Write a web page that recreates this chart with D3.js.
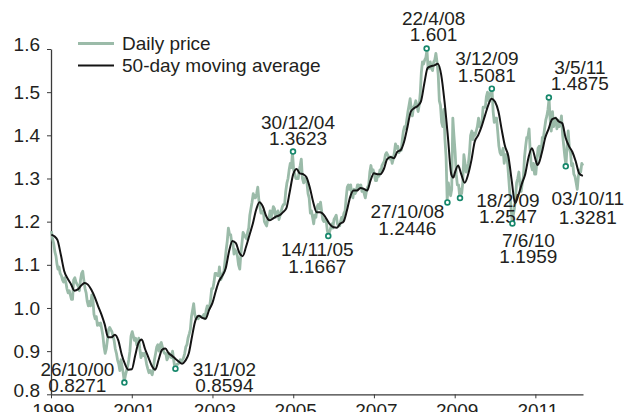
<!DOCTYPE html>
<html>
<head>
<meta charset="utf-8">
<script src="https://cdn.jsdelivr.net/npm/d3@7"></script>
<style>
  html, body { margin: 0; padding: 0; background: #ffffff; }
  svg { display: block; font-family: "Liberation Sans", Arial, Helvetica, sans-serif; }
</style>
</head>
<body>
<svg id="chart" width="627" height="412"></svg>
<script>
// ---------------- DATA ----------------
// Daily price, sampled on the 5th, 15th and 25th of each month (Jan..Dec)
const price1999 = [1.178,1.160,1.150, 1.130,1.120,1.100, 1.090,1.095,1.080, 1.075,1.065,1.060, 1.070,1.060,1.045, 1.035,1.040,1.030, 1.020,1.020,1.065, 1.070,1.060,1.055, 1.050,1.040,1.065, 1.080,1.085,1.065, 1.045,1.035,1.015, 1.005,1.015,1.005];
const price2000 = [1.030,1.020,0.985, 0.975,0.980,0.960, 0.965,0.960,0.965, 0.950,0.935,0.910, 0.895,0.905,0.925, 0.950,0.955,0.950, 0.945,0.935,0.925, 0.905,0.895,0.880, 0.870,0.855,0.880, 0.865,0.850,0.830, 0.845,0.855,0.865, 0.880,0.900,0.935];
const price2001 = [0.945,0.935,0.925, 0.930,0.915,0.920, 0.930,0.905,0.885, 0.895,0.890,0.895, 0.885,0.870,0.860, 0.850,0.855,0.850, 0.845,0.860,0.880, 0.895,0.910,0.915, 0.900,0.915,0.920, 0.910,0.900,0.895, 0.895,0.880,0.885, 0.895,0.890,0.885];
const price2002 = [0.900,0.880,0.862, 0.865,0.870,0.870, 0.875,0.880,0.875, 0.880,0.885,0.895, 0.910,0.915,0.930, 0.940,0.950,0.980, 0.995,1.010,0.985, 0.975,0.980,0.975, 0.980,0.980,0.980, 0.980,0.985,0.975, 0.995,1.005,0.995, 1.000,1.020,1.045];
const price2003 = [1.045,1.060,1.080, 1.080,1.075,1.075, 1.095,1.065,1.070, 1.080,1.085,1.110, 1.135,1.155,1.185, 1.170,1.170,1.150, 1.150,1.125,1.135, 1.130,1.120,1.100, 1.090,1.125,1.150, 1.175,1.170,1.165, 1.160,1.175,1.185, 1.215,1.230,1.245];
const price2004 = [1.265,1.255,1.255, 1.265,1.280,1.250, 1.235,1.220,1.220, 1.225,1.200,1.195, 1.190,1.205,1.205, 1.225,1.210,1.220, 1.235,1.230,1.210, 1.220,1.225,1.205, 1.215,1.225,1.235, 1.240,1.240,1.270, 1.290,1.300,1.320, 1.335,1.325,1.360];
const price2005 = [1.320,1.310,1.300, 1.300,1.300,1.320, 1.330,1.345,1.300, 1.290,1.300,1.295, 1.290,1.265,1.255, 1.220,1.225,1.210, 1.195,1.215,1.210, 1.235,1.240,1.230, 1.245,1.225,1.205, 1.200,1.205,1.205, 1.180,1.170,1.175, 1.185,1.195,1.185];
const price2006 = [1.205,1.210,1.215, 1.195,1.190,1.190, 1.200,1.210,1.205, 1.220,1.225,1.255, 1.280,1.285,1.275, 1.285,1.260,1.255, 1.275,1.265,1.270, 1.285,1.285,1.280, 1.285,1.270,1.275, 1.265,1.255,1.270, 1.280,1.285,1.315, 1.330,1.315,1.320];
const price2007 = [1.310,1.295,1.295, 1.310,1.305,1.320, 1.315,1.330,1.335, 1.340,1.355,1.360, 1.355,1.350,1.345, 1.350,1.335,1.345, 1.360,1.380,1.370, 1.375,1.360,1.365, 1.365,1.390,1.410, 1.420,1.415,1.435, 1.455,1.470,1.485, 1.460,1.445,1.465];
const price2008 = [1.470,1.480,1.470, 1.455,1.470,1.500, 1.545,1.570,1.565, 1.575,1.580,1.598, 1.555,1.555,1.570, 1.555,1.550,1.570, 1.575,1.590,1.570, 1.540,1.480,1.470, 1.430,1.420,1.460, 1.390,1.350,1.250, 1.290,1.270,1.260, 1.275,1.440,1.400];
const price2009 = [1.360,1.310,1.285, 1.285,1.260,1.275, 1.265,1.290,1.355, 1.335,1.315,1.320, 1.335,1.360,1.400, 1.410,1.390,1.405, 1.400,1.410,1.420, 1.440,1.420,1.430, 1.430,1.465,1.465, 1.465,1.490,1.500, 1.480,1.495,1.500, 1.505,1.455,1.430];
const price2010 = [1.440,1.440,1.410, 1.375,1.360,1.355, 1.360,1.370,1.335, 1.355,1.355,1.335, 1.300,1.265,1.235, 1.198,1.215,1.230, 1.255,1.290,1.300, 1.315,1.285,1.270, 1.290,1.305,1.350, 1.375,1.395,1.395, 1.415,1.365,1.330, 1.320,1.335,1.310];
const price2011 = [1.310,1.340,1.370, 1.375,1.350,1.370, 1.395,1.395,1.415, 1.435,1.445,1.460, 1.485,1.435,1.410, 1.455,1.420,1.435, 1.440,1.415,1.435, 1.420,1.425,1.445, 1.400,1.375,1.350, 1.330,1.375,1.410, 1.370,1.360,1.330, 1.335,1.310,1.305];
const price2012 = [1.290,1.275,1.305, 1.320,1.315,1.335, 1.330];
const priceYears = [1999,2000,2001,2002,2003,2004,2005,2006,2007,2008,2009,2010,2011,2012];
const priceTables = [price1999,price2000,price2001,price2002,price2003,price2004,price2005,price2006,price2007,price2008,price2009,price2010,price2011,price2012];
const sampleDays = [5, 15, 25];

// 50-day moving average
const maDates = ["1999-01-04","1999-02-01","1999-03-01","1999-04-01","1999-05-01","1999-06-01","1999-07-01","1999-08-01","1999-09-01","1999-10-01","1999-11-01","1999-12-01",
"2000-01-01","2000-02-01","2000-03-01","2000-04-01","2000-05-01","2000-06-01","2000-07-01","2000-08-01","2000-09-01","2000-10-01","2000-11-01","2000-12-01",
"2001-01-01","2001-02-01","2001-03-01","2001-04-01","2001-05-01","2001-06-01","2001-07-01","2001-08-01","2001-09-01","2001-10-01","2001-11-01","2001-12-01",
"2002-01-01","2002-02-01","2002-03-01","2002-04-01","2002-05-01","2002-06-01","2002-07-01","2002-08-01","2002-09-01","2002-10-01","2002-11-01","2002-12-01",
"2003-01-01","2003-02-01","2003-03-01","2003-04-01","2003-05-01","2003-06-01","2003-07-01","2003-08-01","2003-09-01","2003-10-01","2003-11-01","2003-12-01",
"2004-01-01","2004-02-01","2004-03-01","2004-04-01","2004-05-01","2004-06-01","2004-07-01","2004-08-01","2004-09-01","2004-10-01","2004-11-01","2004-12-01",
"2005-01-01","2005-02-01","2005-03-01","2005-04-01","2005-05-01","2005-06-01","2005-07-01","2005-08-01","2005-09-01","2005-10-01","2005-11-01","2005-12-01",
"2006-01-01","2006-02-01","2006-03-01","2006-04-01","2006-05-01","2006-06-01","2006-07-01","2006-08-01","2006-09-01","2006-10-01","2006-11-01","2006-12-01",
"2007-01-01","2007-02-01","2007-03-01","2007-04-01","2007-05-01","2007-06-01","2007-07-01","2007-08-01","2007-09-01","2007-10-01","2007-11-01","2007-12-01",
"2008-01-01","2008-02-01","2008-03-01","2008-04-01","2008-05-01","2008-06-01","2008-07-01","2008-08-01","2008-09-01","2008-10-01","2008-11-01","2008-12-01","2008-12-20",
"2009-01-01","2009-02-01","2009-03-01","2009-04-01","2009-05-01","2009-06-01","2009-07-01","2009-08-01","2009-09-01","2009-10-01","2009-11-01","2009-12-01",
"2010-01-01","2010-02-01","2010-03-01","2010-04-01","2010-05-01","2010-06-01","2010-07-01","2010-08-01","2010-09-01","2010-10-01","2010-11-01","2010-12-01",
"2011-01-01","2011-01-20","2011-02-01","2011-03-01","2011-04-01","2011-05-01","2011-06-01","2011-07-01","2011-08-01","2011-09-01","2011-10-01","2011-11-01","2011-12-01",
"2012-01-01","2012-02-01","2012-03-06"];
const maValues = [1.170,1.166,1.157,1.122,1.085,1.068,1.055,1.040,1.043,1.052,1.058,1.054,
1.042,1.025,1.005,0.985,0.962,0.932,0.932,0.938,0.925,0.893,0.870,0.857,
0.858,0.890,0.918,0.927,0.905,0.885,0.866,0.857,0.880,0.903,0.906,0.895,
0.889,0.882,0.876,0.871,0.878,0.895,0.935,0.972,0.982,0.977,0.975,0.995,
1.012,1.040,1.062,1.075,1.092,1.132,1.155,1.150,1.128,1.120,1.142,1.168,
1.195,1.228,1.245,1.235,1.213,1.203,1.207,1.212,1.215,1.222,1.232,1.270,
1.310,1.322,1.312,1.310,1.303,1.278,1.245,1.222,1.222,1.217,1.205,1.193,
1.187,1.186,1.195,1.200,1.225,1.258,1.272,1.272,1.278,1.276,1.272,1.295,
1.312,1.310,1.310,1.322,1.345,1.350,1.347,1.362,1.366,1.385,1.420,1.455,
1.463,1.468,1.478,1.520,1.556,1.560,1.562,1.566,1.540,1.478,1.395,1.310,1.302,
1.312,1.330,1.310,1.290,1.308,1.342,1.385,1.400,1.420,1.445,1.470,1.485,
1.478,1.455,1.415,1.375,1.352,1.295,1.243,1.262,1.288,1.310,1.350,1.370,
1.345,1.331,1.335,1.360,1.395,1.415,1.437,1.440,1.432,1.428,1.395,1.375,1.362,
1.340,1.312,1.306];

// Annotated extremes
const annDates  = ["2000-10-26","2002-01-31","2004-12-30","2005-11-14","2008-04-22","2008-10-27","2009-02-18","2010-06-07","2009-12-03","2011-05-03","2011-10-03"];
const annValues = [0.8271,0.8594,1.3623,1.1667,1.601,1.2446,1.2547,1.1959,1.5081,1.4875,1.3281];
const annDateLabels  = ["26/10/00","31/1/02","30/12/04","14/11/05","22/4/08","27/10/08","18/2/09","7/6/10","3/12/09","3/5/11","03/10/11"];
const annValueLabels = ["0.8271","0.8594","1.3623","1.1667","1.601","1.2446","1.2547","1.1959","1.5081","1.4875","1.3281"];

const yTicks = [0.8,0.9,1.0,1.1,1.2,1.3,1.4,1.5,1.6];
const xTickYears = [1999,2001,2003,2005,2007,2009,2011];
const seriesNames = ["Daily price","50-day moving average"];

// ---------------- LAYOUT / STYLE ----------------
const parse = d3.timeParse("%Y-%m-%d");
const lightColor = "#9bbba9";
const maColor = "#141414";
const dotColor = "#16876b";
const textColor = "#231f20";
const fontSize = 19;

// label offsets relative to each dot: [dx, dy of first baseline, gap between lines]
const labelOffsets = [[-47,-7,16],[49,7,16],[5,-23,16],[-11,20,17],[7,-24,16],[-40,16,17],[48,9,16],[16,24,16],[-5,-24,17],[31,-24,16],[22,39,19]];

const svg = d3.select("#chart");
const x = d3.scaleTime().domain([new Date(1999,0,1), new Date(2012,2,7)]).range([51, 583]);
const y = d3.scaleLinear().domain([0.8, 1.6]).range([394.3, 49]);

// build price series
const priceSeries = [];
priceYears.forEach((yr, k) => {
  priceTables[k].forEach((v, i) => {
    priceSeries.push({date: new Date(yr, Math.floor(i/3), sampleDays[i%3]), value: v});
  });
});
const maSeries = maDates.map((d, i) => ({date: parse(d), value: maValues[i]}));

// axes
const yAxis = d3.axisLeft(y).tickValues(yTicks).tickFormat(d3.format(".1f")).tickSize(4).tickSizeOuter(0).tickPadding(7);
const gy = svg.append("g").attr("transform", "translate(51,0)").call(yAxis);
const xAxis = d3.axisBottom(x).tickValues(xTickYears.map(yr => new Date(yr,0,1))).tickFormat(d3.timeFormat("%Y")).tickSize(4).tickSizeOuter(0).tickPadding(5);
const gx = svg.append("g").attr("transform", "translate(0,394.3)").call(xAxis);
[gx, gy].forEach(g => {
  g.select(".domain").attr("stroke", "#3a3a3a").attr("stroke-width", 1.3);
  g.selectAll(".tick line").attr("stroke", "#3a3a3a").attr("stroke-width", 1);
  g.selectAll(".tick text").attr("fill", textColor).style("font-size", fontSize + "px")
    .style("font-family", "'Liberation Sans', Arial, sans-serif");
});
gx.selectAll(".tick text").attr("dx", 2);
gy.selectAll(".tick text").filter(d => d === 1.6 || d === 0.8).attr("dy", "0.1em");

// lines
const line = d3.line().x(d => x(d.date)).y(d => y(d.value));
svg.append("path").datum(priceSeries)
  .attr("fill", "none").attr("stroke", lightColor).attr("stroke-width", 2.8)
  .attr("stroke-linejoin", "round").attr("d", line);
svg.append("path").datum(maSeries)
  .attr("fill", "none").attr("stroke", maColor).attr("stroke-width", 2)
  .attr("stroke-linejoin", "round")
  .attr("d", d3.line().curve(d3.curveMonotoneX).x(d => x(d.date)).y(d => y(d.value)));

// annotations
const ann = annDates.map((d, i) => ({date: parse(d), value: annValues[i], l1: annDateLabels[i], l2: annValueLabels[i], off: labelOffsets[i]}));
const ga = svg.append("g");
ann.forEach(a => {
  const cx = x(a.date), cy = y(a.value);
  ga.append("circle").attr("cx", cx).attr("cy", cy).attr("r", 2.4)
    .attr("fill", "#ffffff").attr("stroke", dotColor).attr("stroke-width", 1.7);
  const t = ga.append("text").attr("text-anchor", "middle").attr("fill", textColor)
    .style("font-size", fontSize + "px");
  t.append("tspan").attr("x", cx + a.off[0]).attr("y", cy + a.off[1]).text(a.l1);
  t.append("tspan").attr("x", cx + a.off[0]).attr("y", cy + a.off[1] + a.off[2]).text(a.l2);
});

// legend
const lg = svg.append("g");
const legendColors = [lightColor, maColor];
const legendWidths = [3, 2];
const legendY = [43.5, 65.5];
seriesNames.forEach((name, i) => {
  lg.append("line").attr("x1", 78).attr("x2", 114).attr("y1", legendY[i]).attr("y2", legendY[i])
    .attr("stroke", legendColors[i]).attr("stroke-width", legendWidths[i]);
  lg.append("text").attr("x", 122).attr("y", legendY[i] + 6).attr("fill", textColor)
    .style("font-size", fontSize + "px").text(name);
});
</script>
</body>
</html>
